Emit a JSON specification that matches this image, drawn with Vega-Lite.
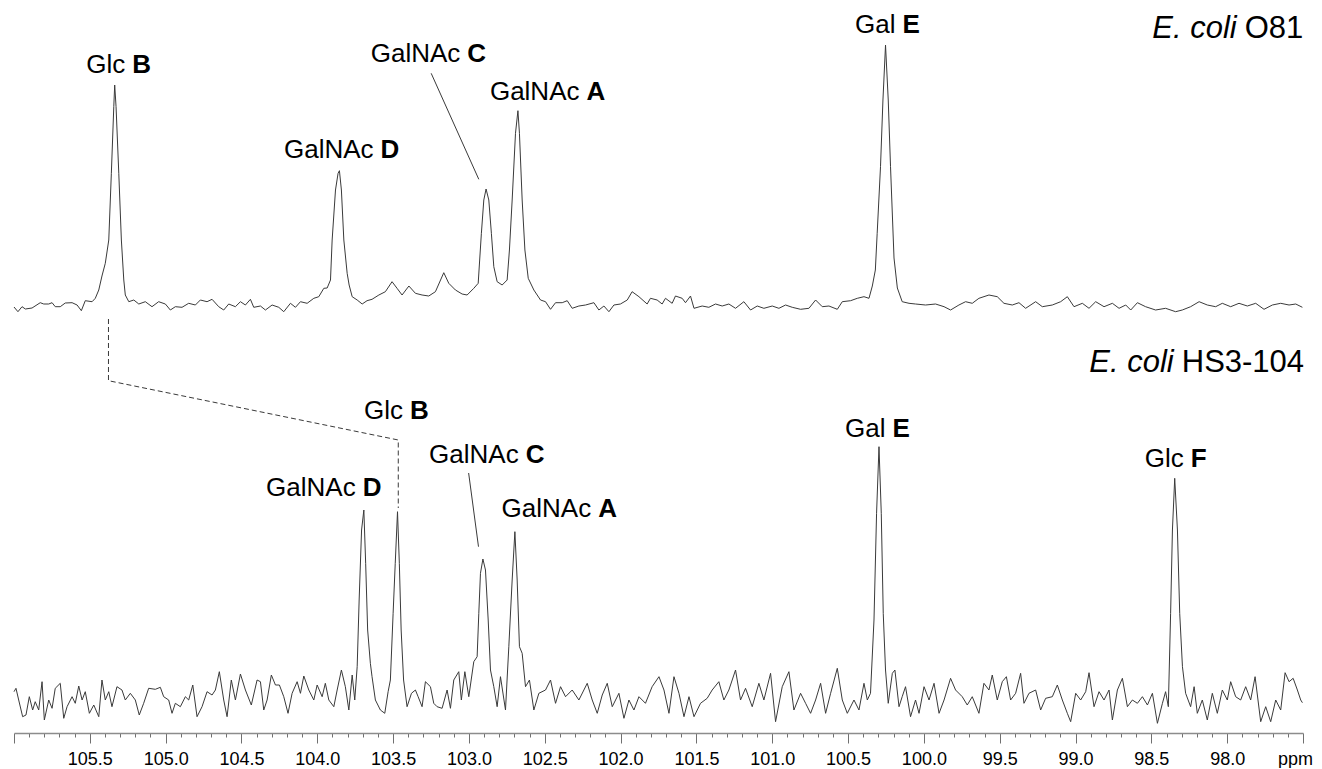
{
  "$schema": "https://vega.github.io/schema/vega-lite/v6.json",
  "width": 1289,
  "height": 733,
  "padding": {"left": 12, "top": 0, "right": 0, "bottom": 0},
  "background": "white",
  "config": {"view": {"stroke": null}, "font": "Liberation Sans"},
  "datasets": {
    "top": [
      {"x":106.000,"y":-2},{"x":105.974,"y":-6.7},{"x":105.947,"y":-1.7},{"x":105.925,"y":-4},{"x":105.881,"y":-3},{"x":105.827,"y":2.3},{"x":105.804,"y":1},{"x":105.771,"y":1},{"x":105.749,"y":2.3},{"x":105.728,"y":-1.7},{"x":105.695,"y":-1.7},{"x":105.662,"y":2},{"x":105.617,"y":2.3},{"x":105.584,"y":0},{"x":105.556,"y":-5.7},{"x":105.530,"y":4.3},{"x":105.485,"y":3.3},{"x":105.464,"y":6.7},{"x":105.441,"y":15},{"x":105.420,"y":29},{"x":105.398,"y":41.7},{"x":105.375,"y":65},{"x":105.358,"y":131.7},{"x":105.342,"y":198.3},{"x":105.336,"y":220},{"x":105.327,"y":198.3},{"x":105.309,"y":131.7},{"x":105.292,"y":65},{"x":105.276,"y":25},{"x":105.266,"y":10},{"x":105.243,"y":3.3},{"x":105.210,"y":5},{"x":105.177,"y":1},{"x":105.134,"y":3.3},{"x":105.090,"y":-1.7},{"x":105.046,"y":3.3},{"x":105.002,"y":1},{"x":104.969,"y":-5},{"x":104.936,"y":-1.7},{"x":104.892,"y":-2.3},{"x":104.848,"y":1.7},{"x":104.804,"y":0},{"x":104.771,"y":5},{"x":104.727,"y":3.3},{"x":104.694,"y":5.7},{"x":104.650,"y":-1.7},{"x":104.617,"y":-5},{"x":104.584,"y":1},{"x":104.540,"y":-1.7},{"x":104.507,"y":3.3},{"x":104.474,"y":0},{"x":104.441,"y":5.7},{"x":104.419,"y":-2.3},{"x":104.375,"y":-1},{"x":104.342,"y":-5},{"x":104.298,"y":0},{"x":104.254,"y":-2.3},{"x":104.221,"y":-6.7},{"x":104.177,"y":1.7},{"x":104.144,"y":-2.3},{"x":104.111,"y":3.3},{"x":104.067,"y":1.7},{"x":104.023,"y":6.7},{"x":103.990,"y":8.3},{"x":103.957,"y":16.7},{"x":103.935,"y":17},{"x":103.913,"y":25},{"x":103.902,"y":65},{"x":103.880,"y":115},{"x":103.863,"y":131.7},{"x":103.854,"y":134.3},{"x":103.841,"y":115},{"x":103.825,"y":65},{"x":103.803,"y":31.7},{"x":103.790,"y":20},{"x":103.770,"y":8.3},{"x":103.737,"y":5},{"x":103.704,"y":1},{"x":103.672,"y":4.3},{"x":103.639,"y":5.7},{"x":103.594,"y":10},{"x":103.551,"y":13.3},{"x":103.507,"y":23.3},{"x":103.474,"y":16.7},{"x":103.441,"y":10},{"x":103.396,"y":19},{"x":103.353,"y":11.7},{"x":103.309,"y":10},{"x":103.265,"y":9},{"x":103.221,"y":13.3},{"x":103.166,"y":32.3},{"x":103.133,"y":21.7},{"x":103.089,"y":15},{"x":103.045,"y":11},{"x":103.012,"y":10},{"x":102.968,"y":16.7},{"x":102.939,"y":21.7},{"x":102.918,"y":71.7},{"x":102.902,"y":105},{"x":102.887,"y":116},{"x":102.869,"y":105},{"x":102.852,"y":71.7},{"x":102.836,"y":38.3},{"x":102.814,"y":23.3},{"x":102.781,"y":20},{"x":102.748,"y":25},{"x":102.733,"y":55},{"x":102.715,"y":105},{"x":102.693,"y":171.7},{"x":102.677,"y":194.3},{"x":102.667,"y":171.7},{"x":102.649,"y":105},{"x":102.631,"y":55},{"x":102.609,"y":26.7},{"x":102.572,"y":15},{"x":102.528,"y":5},{"x":102.495,"y":3.3},{"x":102.462,"y":-4.3},{"x":102.429,"y":2.3},{"x":102.385,"y":2.3},{"x":102.352,"y":4.3},{"x":102.319,"y":-3.3},{"x":102.275,"y":-1},{"x":102.231,"y":0},{"x":102.176,"y":2.3},{"x":102.143,"y":-5},{"x":102.110,"y":-1},{"x":102.077,"y":-6.7},{"x":102.044,"y":0},{"x":102.001,"y":1},{"x":101.956,"y":5},{"x":101.924,"y":13.3},{"x":101.879,"y":8.3},{"x":101.825,"y":1},{"x":101.803,"y":6.7},{"x":101.759,"y":5},{"x":101.726,"y":1},{"x":101.704,"y":6.7},{"x":101.660,"y":1.7},{"x":101.638,"y":9},{"x":101.594,"y":6.7},{"x":101.572,"y":2.3},{"x":101.539,"y":9},{"x":101.516,"y":-3.3},{"x":101.462,"y":-1},{"x":101.418,"y":-2.3},{"x":101.374,"y":1},{"x":101.330,"y":-1},{"x":101.286,"y":1},{"x":101.242,"y":-3.3},{"x":101.187,"y":3.3},{"x":101.143,"y":-5},{"x":101.099,"y":-1},{"x":101.055,"y":-3.3},{"x":101.000,"y":-1},{"x":100.956,"y":-3.3},{"x":100.912,"y":0},{"x":100.868,"y":-2.3},{"x":100.813,"y":-4.3},{"x":100.758,"y":-3.3},{"x":100.714,"y":5},{"x":100.670,"y":-1.7},{"x":100.626,"y":-1},{"x":100.571,"y":-4.3},{"x":100.538,"y":3.3},{"x":100.483,"y":4.3},{"x":100.439,"y":6.7},{"x":100.395,"y":8.3},{"x":100.362,"y":6.7},{"x":100.340,"y":19},{"x":100.320,"y":35},{"x":100.308,"y":71.7},{"x":100.286,"y":138.3},{"x":100.270,"y":205},{"x":100.253,"y":260},{"x":100.235,"y":205},{"x":100.220,"y":138.3},{"x":100.197,"y":47},{"x":100.175,"y":17},{"x":100.143,"y":3.3},{"x":100.098,"y":1.7},{"x":100.055,"y":1},{"x":99.989,"y":0},{"x":99.923,"y":1},{"x":99.867,"y":-1.7},{"x":99.824,"y":-5},{"x":99.769,"y":0},{"x":99.725,"y":3.3},{"x":99.681,"y":1.7},{"x":99.637,"y":6.7},{"x":99.571,"y":10},{"x":99.516,"y":8.3},{"x":99.472,"y":1.7},{"x":99.417,"y":0},{"x":99.373,"y":2.3},{"x":99.329,"y":-3.3},{"x":99.263,"y":3.3},{"x":99.219,"y":-1.7},{"x":99.153,"y":0},{"x":99.098,"y":3.3},{"x":99.054,"y":8.3},{"x":99.010,"y":-1.7},{"x":98.955,"y":1.7},{"x":98.911,"y":-3.3},{"x":98.867,"y":3.3},{"x":98.812,"y":-1.7},{"x":98.757,"y":1.7},{"x":98.713,"y":-3.3},{"x":98.669,"y":0},{"x":98.636,"y":-5},{"x":98.592,"y":2.3},{"x":98.538,"y":-1.7},{"x":98.472,"y":-5},{"x":98.406,"y":-3.3},{"x":98.340,"y":-6.7},{"x":98.296,"y":-5},{"x":98.241,"y":-1.7},{"x":98.185,"y":3.3},{"x":98.131,"y":0},{"x":98.076,"y":-1.7},{"x":98.032,"y":1.7},{"x":97.977,"y":-1.7},{"x":97.922,"y":1.7},{"x":97.867,"y":-1},{"x":97.812,"y":1.7},{"x":97.757,"y":-4.3},{"x":97.702,"y":0},{"x":97.647,"y":1.7},{"x":97.592,"y":0},{"x":97.548,"y":1},{"x":97.504,"y":-2.3}
    ],
    "bot": [
      {"x":106.000,"y":13.3},{"x":105.987,"y":16.7},{"x":105.969,"y":5},{"x":105.943,"y":-11.7},{"x":105.921,"y":-10},{"x":105.899,"y":8.3},{"x":105.877,"y":-5},{"x":105.860,"y":3.3},{"x":105.837,"y":-5},{"x":105.815,"y":23.3},{"x":105.800,"y":-15},{"x":105.771,"y":5},{"x":105.749,"y":-3.3},{"x":105.728,"y":16.7},{"x":105.695,"y":21.7},{"x":105.672,"y":-13.3},{"x":105.650,"y":-1.7},{"x":105.617,"y":8.3},{"x":105.596,"y":1.7},{"x":105.573,"y":19},{"x":105.551,"y":5},{"x":105.530,"y":13.3},{"x":105.503,"y":-8.3},{"x":105.474,"y":0},{"x":105.441,"y":-11.7},{"x":105.420,"y":25},{"x":105.398,"y":5},{"x":105.375,"y":13.3},{"x":105.354,"y":-1.7},{"x":105.321,"y":18.3},{"x":105.288,"y":15},{"x":105.266,"y":5},{"x":105.233,"y":11.7},{"x":105.200,"y":5},{"x":105.174,"y":-10},{"x":105.145,"y":1.7},{"x":105.112,"y":16.7},{"x":105.068,"y":15.7},{"x":105.035,"y":17.7},{"x":105.013,"y":8.3},{"x":104.980,"y":5},{"x":104.958,"y":-8.3},{"x":104.936,"y":1.7},{"x":104.903,"y":-1.7},{"x":104.870,"y":8.3},{"x":104.848,"y":5},{"x":104.821,"y":20},{"x":104.793,"y":-11.7},{"x":104.760,"y":-1.7},{"x":104.727,"y":13.3},{"x":104.694,"y":10},{"x":104.672,"y":15},{"x":104.646,"y":33.3},{"x":104.617,"y":5},{"x":104.595,"y":-11.7},{"x":104.567,"y":25},{"x":104.540,"y":5},{"x":104.507,"y":31},{"x":104.474,"y":15},{"x":104.435,"y":0},{"x":104.397,"y":25},{"x":104.375,"y":23.3},{"x":104.353,"y":-5},{"x":104.331,"y":5},{"x":104.303,"y":30},{"x":104.276,"y":20},{"x":104.250,"y":20},{"x":104.221,"y":8.3},{"x":104.193,"y":-8.3},{"x":104.166,"y":11.7},{"x":104.133,"y":23.3},{"x":104.111,"y":11.7},{"x":104.089,"y":29},{"x":104.056,"y":15},{"x":104.023,"y":5},{"x":104.001,"y":20},{"x":103.968,"y":8.3},{"x":103.947,"y":21.7},{"x":103.924,"y":5},{"x":103.891,"y":-1.7},{"x":103.869,"y":15},{"x":103.841,"y":35},{"x":103.815,"y":18.3},{"x":103.792,"y":-5},{"x":103.770,"y":30},{"x":103.753,"y":5},{"x":103.737,"y":38.3},{"x":103.724,"y":105},{"x":103.708,"y":175},{"x":103.693,"y":195},{"x":103.681,"y":141.7},{"x":103.668,"y":75},{"x":103.650,"y":41.7},{"x":103.639,"y":28.3},{"x":103.617,"y":5},{"x":103.584,"y":-5},{"x":103.555,"y":-8.3},{"x":103.533,"y":13.3},{"x":103.518,"y":25},{"x":103.500,"y":91.7},{"x":103.486,"y":141.7},{"x":103.471,"y":193.3},{"x":103.459,"y":141.7},{"x":103.447,"y":75},{"x":103.431,"y":25},{"x":103.408,"y":-1.7},{"x":103.379,"y":11.7},{"x":103.353,"y":15},{"x":103.335,"y":8.3},{"x":103.309,"y":-1.7},{"x":103.287,"y":23.3},{"x":103.254,"y":18.3},{"x":103.232,"y":1.7},{"x":103.210,"y":-1.7},{"x":103.177,"y":-3.3},{"x":103.144,"y":15},{"x":103.122,"y":-3.3},{"x":103.100,"y":25},{"x":103.067,"y":33.3},{"x":103.050,"y":5},{"x":103.027,"y":33.3},{"x":103.001,"y":8.3},{"x":102.968,"y":43.3},{"x":102.946,"y":48.3},{"x":102.935,"y":91.7},{"x":102.924,"y":131.7},{"x":102.908,"y":146},{"x":102.891,"y":135},{"x":102.873,"y":85},{"x":102.858,"y":35},{"x":102.836,"y":18.3},{"x":102.814,"y":-1.7},{"x":102.792,"y":28.3},{"x":102.759,"y":-5},{"x":102.737,"y":58.3},{"x":102.715,"y":125},{"x":102.697,"y":173.3},{"x":102.682,"y":125},{"x":102.667,"y":58.3},{"x":102.649,"y":51.7},{"x":102.627,"y":18.3},{"x":102.601,"y":25},{"x":102.572,"y":-5},{"x":102.539,"y":11.7},{"x":102.495,"y":15},{"x":102.462,"y":25},{"x":102.429,"y":1.7},{"x":102.396,"y":18.3},{"x":102.363,"y":8.3},{"x":102.319,"y":15},{"x":102.275,"y":5},{"x":102.220,"y":21.7},{"x":102.187,"y":5},{"x":102.154,"y":-8.3},{"x":102.121,"y":10},{"x":102.088,"y":21.7},{"x":102.055,"y":-1.7},{"x":102.011,"y":11.7},{"x":101.978,"y":-13.3},{"x":101.945,"y":5},{"x":101.912,"y":-5},{"x":101.879,"y":8.3},{"x":101.836,"y":1.7},{"x":101.792,"y":18.3},{"x":101.747,"y":28.3},{"x":101.714,"y":15},{"x":101.681,"y":-8.3},{"x":101.648,"y":28.3},{"x":101.615,"y":11.7},{"x":101.582,"y":-11.7},{"x":101.549,"y":8.3},{"x":101.516,"y":-11.7},{"x":101.473,"y":1.7},{"x":101.429,"y":6.7},{"x":101.396,"y":15},{"x":101.352,"y":23.3},{"x":101.319,"y":5},{"x":101.286,"y":15},{"x":101.242,"y":35},{"x":101.209,"y":5},{"x":101.176,"y":16.7},{"x":101.132,"y":-1.7},{"x":101.088,"y":21.7},{"x":101.055,"y":5},{"x":101.011,"y":31.7},{"x":100.978,"y":-16.7},{"x":100.934,"y":18.3},{"x":100.890,"y":33.3},{"x":100.857,"y":-5},{"x":100.813,"y":11.7},{"x":100.780,"y":1.7},{"x":100.747,"y":-8.3},{"x":100.714,"y":5},{"x":100.681,"y":21.7},{"x":100.648,"y":-8.3},{"x":100.615,"y":11.7},{"x":100.571,"y":36.7},{"x":100.538,"y":5},{"x":100.505,"y":-8.3},{"x":100.461,"y":5},{"x":100.428,"y":-5},{"x":100.395,"y":21.7},{"x":100.373,"y":5},{"x":100.352,"y":11.7},{"x":100.329,"y":85},{"x":100.312,"y":191.7},{"x":100.296,"y":258.3},{"x":100.281,"y":191.7},{"x":100.268,"y":91.7},{"x":100.253,"y":35},{"x":100.235,"y":1.7},{"x":100.208,"y":31.7},{"x":100.191,"y":35},{"x":100.164,"y":-1.7},{"x":100.143,"y":8.3},{"x":100.121,"y":18.3},{"x":100.088,"y":-11.7},{"x":100.055,"y":5},{"x":100.032,"y":-8.3},{"x":99.999,"y":18.3},{"x":99.966,"y":5},{"x":99.933,"y":21.7},{"x":99.900,"y":-8.3},{"x":99.867,"y":5},{"x":99.824,"y":26.7},{"x":99.791,"y":15},{"x":99.747,"y":8.3},{"x":99.714,"y":0},{"x":99.681,"y":8.3},{"x":99.637,"y":-8.3},{"x":99.604,"y":21.7},{"x":99.571,"y":15},{"x":99.549,"y":30},{"x":99.516,"y":5},{"x":99.483,"y":23.3},{"x":99.456,"y":28.3},{"x":99.428,"y":5},{"x":99.395,"y":11.7},{"x":99.362,"y":31.7},{"x":99.340,"y":1.7},{"x":99.307,"y":11.7},{"x":99.263,"y":15},{"x":99.230,"y":-5},{"x":99.197,"y":6.7},{"x":99.153,"y":8.3},{"x":99.120,"y":20},{"x":99.087,"y":5},{"x":99.054,"y":-8.3},{"x":99.032,"y":-16.7},{"x":98.999,"y":11.7},{"x":98.966,"y":5},{"x":98.933,"y":13.3},{"x":98.911,"y":32.3},{"x":98.878,"y":-1.7},{"x":98.845,"y":13.3},{"x":98.812,"y":5},{"x":98.779,"y":15},{"x":98.757,"y":-15},{"x":98.724,"y":15},{"x":98.691,"y":26.7},{"x":98.658,"y":-1.7},{"x":98.625,"y":5},{"x":98.592,"y":1.7},{"x":98.559,"y":8.3},{"x":98.526,"y":0},{"x":98.493,"y":11.7},{"x":98.460,"y":-18.3},{"x":98.427,"y":1.7},{"x":98.406,"y":13.3},{"x":98.388,"y":-1.7},{"x":98.373,"y":91.7},{"x":98.361,"y":175},{"x":98.346,"y":226.7},{"x":98.328,"y":175},{"x":98.313,"y":91.7},{"x":98.295,"y":38.3},{"x":98.274,"y":11.7},{"x":98.241,"y":-1.7},{"x":98.218,"y":18.3},{"x":98.197,"y":-8.3},{"x":98.164,"y":5},{"x":98.131,"y":-15},{"x":98.098,"y":11.7},{"x":98.065,"y":-8.3},{"x":98.032,"y":15},{"x":97.999,"y":5},{"x":97.977,"y":23.3},{"x":97.944,"y":8.3},{"x":97.911,"y":5},{"x":97.878,"y":18.3},{"x":97.845,"y":5},{"x":97.816,"y":28.3},{"x":97.779,"y":-16.7},{"x":97.746,"y":-1.7},{"x":97.713,"y":-16.7},{"x":97.680,"y":5},{"x":97.647,"y":-5},{"x":97.618,"y":32.3},{"x":97.592,"y":23.3},{"x":97.565,"y":26.7},{"x":97.537,"y":15},{"x":97.515,"y":5},{"x":97.504,"y":2.3}
    ],
    "labels": [
      {"s":"top","x":105.243,"y":231.7,"n":"Glc","b":"B"},
      {"s":"top","x":103.606,"y":146.7,"n":"GalNAc","b":"D"},
      {"s":"top","x":103.034,"y":243.3,"n":"GalNAc","b":"C"},
      {"s":"top","x":102.248,"y":205,"n":"GalNAc","b":"A"},
      {"s":"top","x":100.164,"y":271.7,"n":"Gal","b":"E"},
      {"s":"bot","x":103.724,"y":209,"n":"GalNAc","b":"D"},
      {"s":"bot","x":103.412,"y":285.7,"n":"Glc","b":"B"},
      {"s":"bot","x":102.649,"y":241.7,"n":"GalNAc","b":"C"},
      {"s":"bot","x":102.171,"y":188.3,"n":"GalNAc","b":"A"},
      {"s":"bot","x":100.230,"y":267.7,"n":"Gal","b":"E"},
      {"s":"bot","x":98.263,"y":238,"n":"Glc","b":"F"}
    ],
    "titles": [
      {"s":"top","x":97.911,"y":266.7,"it":"E. coli","rg":"O81"},
      {"s":"bot","x":98.326,"y":333,"it":"E. coli","rg":"HS3-104"}
    ],
    "lines": [
      {"g":"topC","o":1,"x":103.249,"y":231.7},
      {"g":"topC","o":2,"x":102.935,"y":125.7},
      {"g":"botC","o":1,"x":103.002,"y":232},
      {"g":"botC","o":2,"x":102.937,"y":158.3},
      {"g":"dash","o":1,"x":105.377,"y":386},
      {"g":"dash","o":2,"x":105.377,"y":324.3},
      {"g":"dash","o":3,"x":103.466,"y":265},
      {"g":"dash","o":4,"x":103.466,"y":197}
    ]
  },
  "encoding": {
    "x": {
      "field": "x", "type": "quantitative",
      "scale": {"domain": [97.5, 106], "reverse": true, "zero": false, "nice": false},
      "axis": {
        "title": null, "grid": false,
        "values": [97.5,97.6,97.7,97.8,97.9,98,98.1,98.2,98.3,98.4,98.5,98.6,98.7,98.8,98.9,99,99.1,99.2,99.3,99.4,99.5,99.6,99.7,99.8,99.9,100,100.1,100.2,100.3,100.4,100.5,100.6,100.7,100.8,100.9,101,101.1,101.2,101.3,101.4,101.5,101.6,101.7,101.8,101.9,102,102.1,102.2,102.3,102.4,102.5,102.6,102.7,102.8,102.9,103,103.1,103.2,103.3,103.4,103.5,103.6,103.7,103.8,103.9,104,104.1,104.2,104.3,104.4,104.5,104.6,104.7,104.8,104.9,105,105.1,105.2,105.3,105.4,105.5,105.6,105.7,105.8,105.9,106],
        "domainColor": "#8c8c8c", "domainWidth": 1.5,
        "tickColor": "#707070", "tickWidth": 1,
        "tickSize": {"condition": {"test": "abs(datum.value*2 - round(datum.value*2)) < 0.01", "value": 10}, "value": 4},
        "labelExpr": "datum.value < 97.55 ? 'ppm' : (datum.value > 105.95 ? '' : (abs(datum.value*2 - round(datum.value*2)) < 0.01 ? format(datum.value, '.1f') : ''))",
        "labelOffset": {"condition": {"test": "datum.value < 97.55", "value": -8}, "value": 0},
        "labelFont": "Liberation Sans", "labelFontSize": 18, "labelColor": "#000000",
        "labelPadding": 7, "labelOverlap": false, "labelFlush": false, "labelBound": false
      }
    }
  },
  "layer": [
    {
      "layer": [
        {
          "data": {"name": "top"},
          "mark": {"type": "line", "color": "#3a3a3a", "strokeWidth": 1},
          "encoding": {"y": {"field": "y", "type": "quantitative", "scale": {"domain": [-428, 305], "zero": false, "nice": false}, "axis": null}}
        },
        {
          "data": {"name": "lines"},
          "transform": [{"filter": "datum.g == 'topC'"}],
          "mark": {"type": "line", "color": "#3a3a3a", "strokeWidth": 1},
          "encoding": {"y": {"field": "y", "type": "quantitative", "scale": {"domain": [-428, 305], "zero": false, "nice": false}, "axis": null}, "order": {"field": "o", "type": "quantitative"}}
        },
        {
          "data": {"name": "labels"},
          "transform": [{"filter": "datum.s == 'top'"}],
          "mark": {"type": "text", "align": "right", "baseline": "alphabetic", "dx": -3.5, "fontSize": 26, "font": "Liberation Sans", "color": "#000000"},
          "encoding": {"y": {"field": "y", "type": "quantitative", "scale": {"domain": [-428, 305], "zero": false, "nice": false}, "axis": null}, "text": {"field": "n"}}
        },
        {
          "data": {"name": "labels"},
          "transform": [{"filter": "datum.s == 'top'"}],
          "mark": {"type": "text", "align": "left", "baseline": "alphabetic", "dx": 3.5, "fontSize": 26, "fontWeight": "bold", "font": "Liberation Sans", "color": "#000000"},
          "encoding": {"y": {"field": "y", "type": "quantitative", "scale": {"domain": [-428, 305], "zero": false, "nice": false}, "axis": null}, "text": {"field": "b"}}
        },
        {
          "data": {"name": "titles"},
          "transform": [{"filter": "datum.s == 'top'"}],
          "mark": {"type": "text", "align": "right", "baseline": "alphabetic", "dx": -4, "fontSize": 31, "fontStyle": "italic", "font": "Liberation Sans", "color": "#000000"},
          "encoding": {"y": {"field": "y", "type": "quantitative", "scale": {"domain": [-428, 305], "zero": false, "nice": false}, "axis": null}, "text": {"field": "it"}}
        },
        {
          "data": {"name": "titles"},
          "transform": [{"filter": "datum.s == 'top'"}],
          "mark": {"type": "text", "align": "left", "baseline": "alphabetic", "dx": 4, "fontSize": 31, "font": "Liberation Sans", "color": "#000000"},
          "encoding": {"y": {"field": "y", "type": "quantitative", "scale": {"domain": [-428, 305], "zero": false, "nice": false}, "axis": null}, "text": {"field": "rg"}}
        }
      ]
    },
    {
      "layer": [
        {
          "data": {"name": "bot"},
          "mark": {"type": "line", "color": "#3a3a3a", "strokeWidth": 1},
          "encoding": {"y": {"field": "y", "type": "quantitative", "scale": {"domain": [-28, 705], "zero": false, "nice": false}, "axis": null}}
        },
        {
          "data": {"name": "lines"},
          "transform": [{"filter": "datum.g == 'botC'"}],
          "mark": {"type": "line", "color": "#3a3a3a", "strokeWidth": 1},
          "encoding": {"y": {"field": "y", "type": "quantitative", "scale": {"domain": [-28, 705], "zero": false, "nice": false}, "axis": null}, "order": {"field": "o", "type": "quantitative"}}
        },
        {
          "data": {"name": "lines"},
          "transform": [{"filter": "datum.g == 'dash'"}],
          "mark": {"type": "line", "color": "#3a3a3a", "strokeWidth": 1, "strokeDash": [5, 3]},
          "encoding": {"y": {"field": "y", "type": "quantitative", "scale": {"domain": [-28, 705], "zero": false, "nice": false}, "axis": null}, "order": {"field": "o", "type": "quantitative"}}
        },
        {
          "data": {"name": "labels"},
          "transform": [{"filter": "datum.s == 'bot'"}],
          "mark": {"type": "text", "align": "right", "baseline": "alphabetic", "dx": -3.5, "fontSize": 26, "font": "Liberation Sans", "color": "#000000"},
          "encoding": {"y": {"field": "y", "type": "quantitative", "scale": {"domain": [-28, 705], "zero": false, "nice": false}, "axis": null}, "text": {"field": "n"}}
        },
        {
          "data": {"name": "labels"},
          "transform": [{"filter": "datum.s == 'bot'"}],
          "mark": {"type": "text", "align": "left", "baseline": "alphabetic", "dx": 3.5, "fontSize": 26, "fontWeight": "bold", "font": "Liberation Sans", "color": "#000000"},
          "encoding": {"y": {"field": "y", "type": "quantitative", "scale": {"domain": [-28, 705], "zero": false, "nice": false}, "axis": null}, "text": {"field": "b"}}
        },
        {
          "data": {"name": "titles"},
          "transform": [{"filter": "datum.s == 'bot'"}],
          "mark": {"type": "text", "align": "right", "baseline": "alphabetic", "dx": -4, "fontSize": 31, "fontStyle": "italic", "font": "Liberation Sans", "color": "#000000"},
          "encoding": {"y": {"field": "y", "type": "quantitative", "scale": {"domain": [-28, 705], "zero": false, "nice": false}, "axis": null}, "text": {"field": "it"}}
        },
        {
          "data": {"name": "titles"},
          "transform": [{"filter": "datum.s == 'bot'"}],
          "mark": {"type": "text", "align": "left", "baseline": "alphabetic", "dx": 4, "fontSize": 31, "font": "Liberation Sans", "color": "#000000"},
          "encoding": {"y": {"field": "y", "type": "quantitative", "scale": {"domain": [-28, 705], "zero": false, "nice": false}, "axis": null}, "text": {"field": "rg"}}
        }
      ]
    }
  ],
  "resolve": {"scale": {"y": "independent"}}
}
